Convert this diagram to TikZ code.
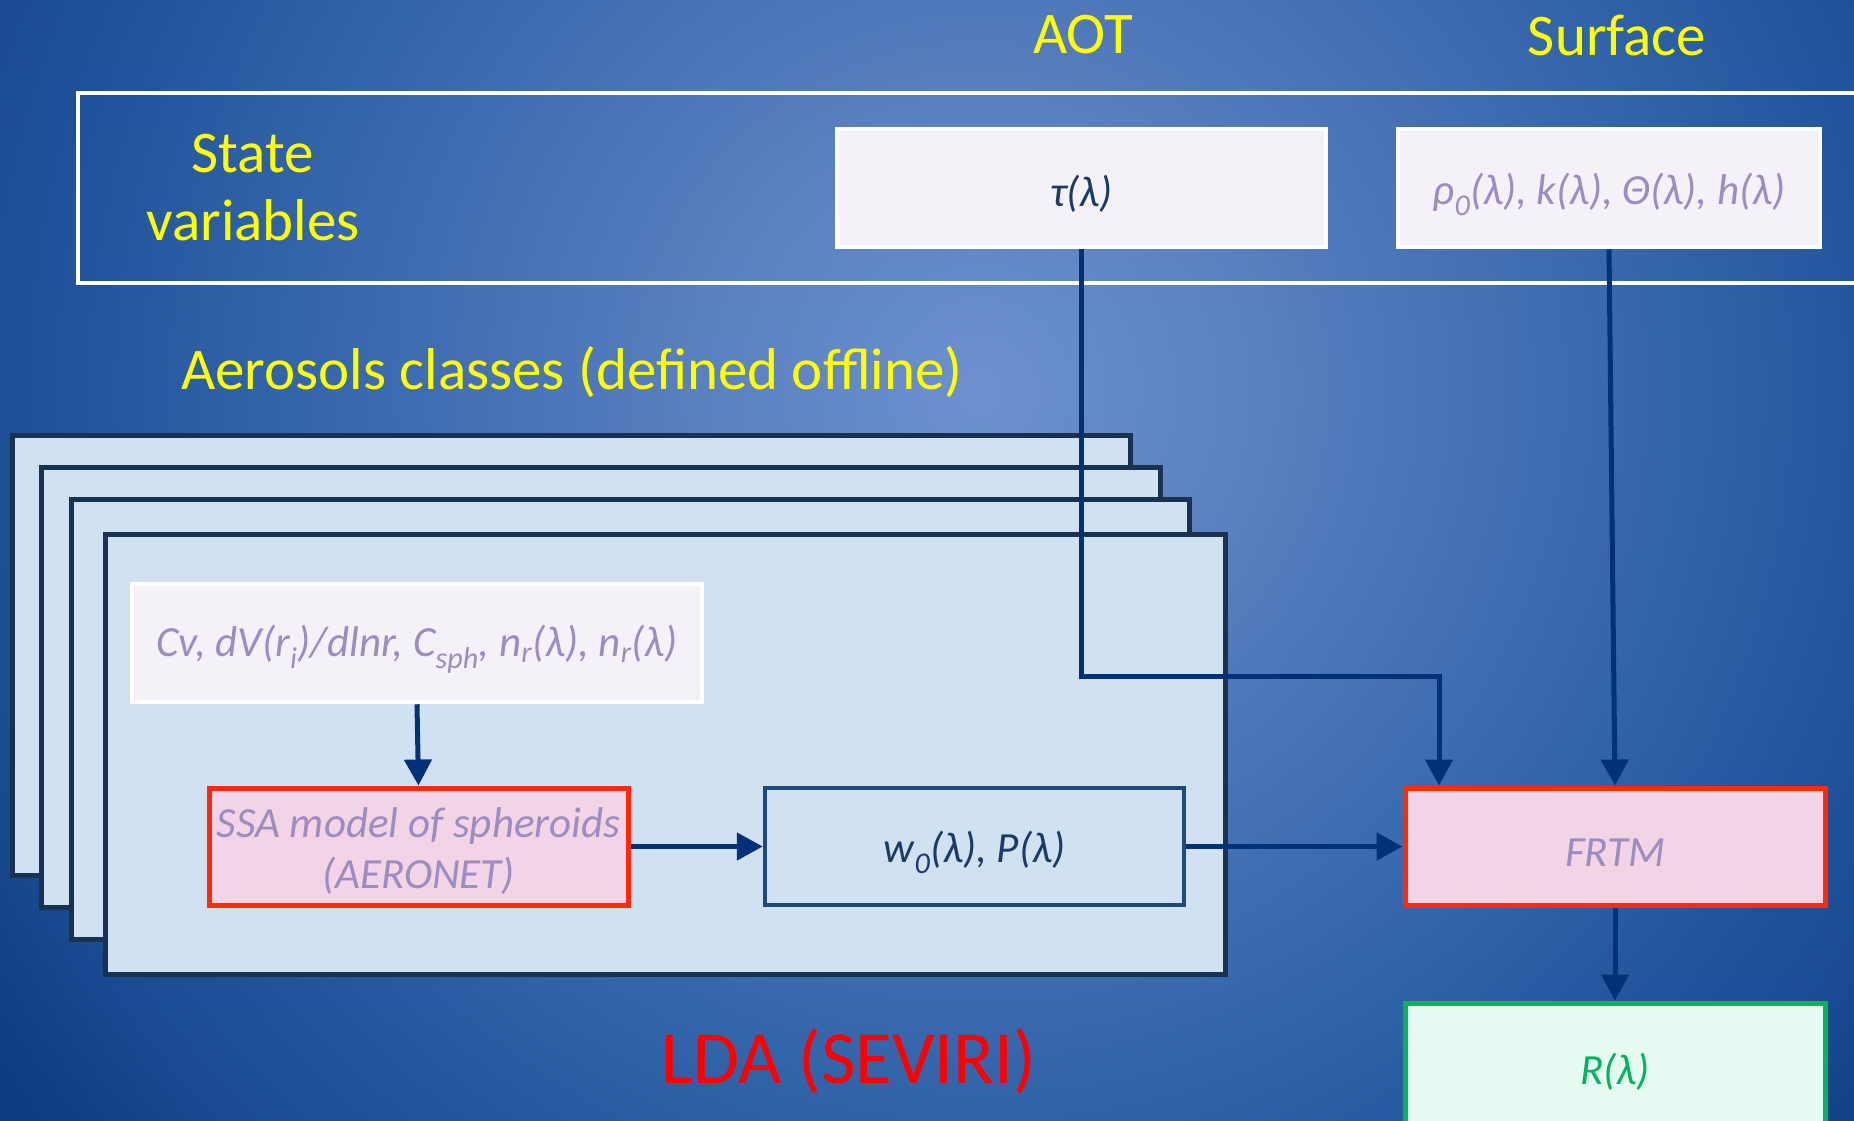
\documentclass[tikz,border=0pt]{standalone}
\usepackage{fontspec}
\setmainfont{Carlito}
\usetikzlibrary{arrows.meta}

\definecolor{bginner}{HTML}{6D91CF}
\definecolor{bgringa}{HTML}{5C82C2}
\definecolor{bgringb}{HTML}{4571B4}
\definecolor{bgringc}{HTML}{3264AA}
\definecolor{bgringd}{HTML}{1E5098}
\definecolor{bgringe}{HTML}{1A4B92}
\definecolor{bgringf}{HTML}{0D3E84}
\definecolor{bgouter}{HTML}{0A3B80}
\definecolor{titleyellow}{HTML}{FFFF00}
\definecolor{ldared}{HTML}{FF0000}
\definecolor{boxlav}{HTML}{F4F2F8}
\definecolor{textlav}{HTML}{9D8CBF}
\definecolor{textnavy}{HTML}{1C3A63}
\definecolor{stackfill}{HTML}{D0E1F2}
\definecolor{stackedge}{HTML}{18324F}
\definecolor{modelred}{HTML}{FF2A0A}
\definecolor{modelpink}{HTML}{F3D3E6}
\definecolor{outgreen}{HTML}{00B560}
\definecolor{outfill}{HTML}{E6FAF1}
\definecolor{linknavy}{HTML}{023178}
\definecolor{innerblue}{HTML}{1F4A78}

% glow: the central 50bp square of the shading covers the shaded path,
% so 25bp is the half side of the square it is applied to (1250 units)
\pgfdeclareradialshading{bgglow}{\pgfpoint{0bp}{0bp}}{%
  color(0bp)=(bginner); color(5bp)=(bgringa); color(10bp)=(bgringb);
  color(14bp)=(bgringc); color(19.2bp)=(bgringd); color(21bp)=(bgringe);
  color(23.5bp)=(bgringf); color(25bp)=(bgouter); color(50bp)=(bgouter)}

% box texts sit a little below the geometric centre
\newcommand{\dropText}[1]{\raisebox{-6pt}[\height][\depth]{#1}}

\tikzset{
  title/.style={text=titleyellow, font=\fontsize{59}{68}\selectfont, align=center},
  statebox/.style={draw=white, line width=4.5pt, fill=boxlav, inner sep=0pt,
    font=\itshape\fontsize{43}{51}\selectfont},
  stackcard/.style={draw=stackedge, line width=5pt, fill=stackfill},
  modelbox/.style={draw=modelred, line width=5pt, fill=modelpink, inner sep=0pt,
    text=textlav, font=\itshape\fontsize{43}{51}\selectfont},
  propbox/.style={draw=innerblue, line width=4.5pt, fill=stackfill, inner sep=0pt,
    text=textnavy, font=\itshape\fontsize{43}{51}\selectfont},
  outbox/.style={draw=outgreen, line width=5pt, fill=outfill, inner sep=0pt,
    text=outgreen, font=\itshape\fontsize{43}{51}\selectfont},
  link/.style={draw=linknavy, line width=5pt,
    -{Triangle[length=26pt,width=27pt]}},
}

\begin{document}
\begin{tikzpicture}[x=1pt, y=-1pt]
  \useasboundingbox (0,0) rectangle (1854,1120);
  \clip (0,0) rectangle (1854,1120);

  % background glow
  \shade[shading=bgglow] (-270,-860) rectangle (2230,1640);

  % headings
  \node[title] (aot) at (1083,35) {AOT};
  \node[title] (surface) at (1617,35) {Surface};

  % state variables band
  \draw[white, line width=4pt] (78,93) rectangle (1900,283);
  \node[title] (statevars) at (253,188) {State\\variables};
  \node[statebox, text=textnavy, minimum width=489pt, minimum height=118pt]
    (tau) at (1081.5,188) {\dropText{τ(λ)}};
  \node[statebox, text=textlav, minimum width=422pt, minimum height=118pt]
    (rho) at (1609,188) {\dropText{ρ\textsubscript{0}(λ), k(λ), Θ(λ), h(λ)}};

  % aerosol classes
  \node[title] (classes) at (572,372) {Aerosols classes (defined offline)};
  \draw[stackcard] (12,435) rectangle (1130,875);
  \draw[stackcard] (41,467) rectangle (1160,907);
  \draw[stackcard] (71,499) rectangle (1189,939);
  \draw[stackcard] (105,534) rectangle (1225,974);

  \node[statebox, text=textlav, minimum width=570pt, minimum height=118pt]
    (cv) at (417,643)
    {\dropText{Cv, dV(r\textsubscript{i})/dlnr, C\textsubscript{sph}, n\textsubscript{r}(λ), n\textsubscript{r}(λ)}};
  \node[modelbox, minimum width=419pt, minimum height=117pt]
    (ssa) at (418.5,846.5)
    {\dropText{\begin{tabular}{@{}c@{}}SSA model of spheroids\\(AERONET)\end{tabular}}};
  \node[propbox, minimum width=419pt, minimum height=117pt]
    (w0) at (974.5,846.5) {\dropText{w\textsubscript{0}(λ), P(λ)}};

  % forward model and output
  \node[modelbox, minimum width=420pt, minimum height=117pt]
    (frtm) at (1615,846.5) {\dropText{FRTM}};
  \node[outbox, minimum width=420pt, minimum height=125pt]
    (rout) at (1615,1065.5) {\dropText{R(λ)}};

  \node[text=ldared, font=\fontsize{75}{80}\selectfont] (lda) at (849,1061) {LDA (SEVIRI)};

  % connectors
  \coordinate (taubend) at (1439,676);
  \coordinate (tauin) at ([xshift=-176pt]frtm.north);
  \draw[link] (tau.south) |- (taubend) -- (tauin);
  \draw[link] (rho.south) -- (frtm.north);
  \draw[link] (cv.south) -- (ssa.north);
  \draw[link] (ssa.east) -- (w0.west);
  \draw[link] (w0.east) -- (frtm.west);
  \draw[link] (frtm.south) -- (rout.north);
\end{tikzpicture}
\end{document}
